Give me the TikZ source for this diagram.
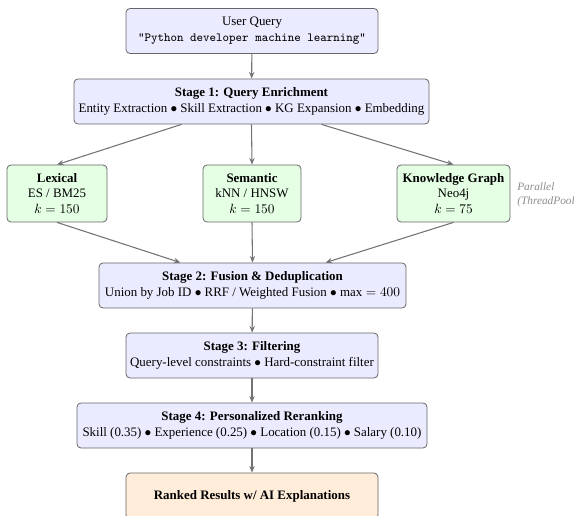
\documentclass[tikz,border=0pt]{standalone}
\usepackage{fontspec}
\setmainfont{Liberation Serif}
\usetikzlibrary{arrows.meta,positioning}
\begin{document}
\begin{tikzpicture}[x=0.75pt,y=-0.75pt,
  box/.style={draw=black!60, line width=0.6pt, rounded corners=3pt, align=center, inner sep=2pt, font=\fontsize{9.7}{11.8}\selectfont},
  stagebox/.style={box, fill=blue!8, minimum height=33.75pt},
  retbox/.style={box, fill=green!10, minimum height=42.75pt},
  resbox/.style={box, fill=orange!15, minimum height=34.5pt, minimum width=189pt},
  conn/.style={draw=black!55, line width=0.8pt, -{Stealth[length=5pt,width=4pt]}},
  note/.style={align=left, inner sep=0pt, text=black!45, font=\fontsize{8.5}{10.5}\selectfont\itshape}]
\useasboundingbox (0,0) rectangle (574,516);
\node[stagebox, minimum width=189pt] (query) at (252,31) {User Query\\{\fontsize{9.3}{11.5}\selectfont\ttfamily "Python developer machine learning"}};
\node[stagebox, minimum width=266.25pt] (s1) at (251.5,101.5) {\textbf{Stage 1: Query Enrichment}\\Entity Extraction $\bullet$ Skill Extraction $\bullet$ KG Expansion $\bullet$ Embedding};
\node[retbox, minimum width=75pt] (lex) at (57,193.5) {\textbf{Lexical}\\ES / BM25\\$k=150$};
\node[retbox, minimum width=73.5pt] (sem) at (252,193.5) {\textbf{Semantic}\\kNN / HNSW\\$k=150$};
\node[retbox, minimum width=84.75pt] (kg) at (453.5,193.5) {\textbf{Knowledge Graph}\\Neo4j\\$k=75$};
\node[note, anchor=west] (par) at (517,195) {Parallel\\(ThreadPool)};
\node[stagebox, minimum width=230.25pt] (s2) at (252.5,285.5) {\textbf{Stage 2: Fusion \& Deduplication}\\Union by Job ID $\bullet$ RRF / Weighted Fusion $\bullet$ $\max=400$};
\node[stagebox, minimum width=189pt] (s3) at (252,355.5) {\textbf{Stage 3: Filtering}\\Query-level constraints $\bullet$ Hard-constraint filter};
\node[stagebox, minimum width=262.5pt] (s4) at (252,425.5) {\textbf{Stage 4: Personalized Reranking}\\Skill (0.35) $\bullet$ Experience (0.25) $\bullet$ Location (0.15) $\bullet$ Salary (0.10)};
\node[resbox] (res) at (252,496) {\textbf{Ranked Results w/ AI Explanations}};
\draw[conn] (query) -- (s1);
\draw[conn] ([xshift=-52.5pt]s1.south) -- (lex.north);
\draw[conn] (s1.south) -- (sem.north);
\draw[conn] ([xshift=52.5pt]s1.south) -- (kg.north);
\draw[conn] (lex.south) -- ([xshift=-54pt]s2.north);
\draw[conn] (sem.south) -- (s2.north);
\draw[conn] (kg.south) -- ([xshift=54.75pt]s2.north);
\draw[conn] (s2) -- (s3);
\draw[conn] (s3) -- (s4);
\draw[conn] (s4) -- (res);
\end{tikzpicture}
\end{document}
